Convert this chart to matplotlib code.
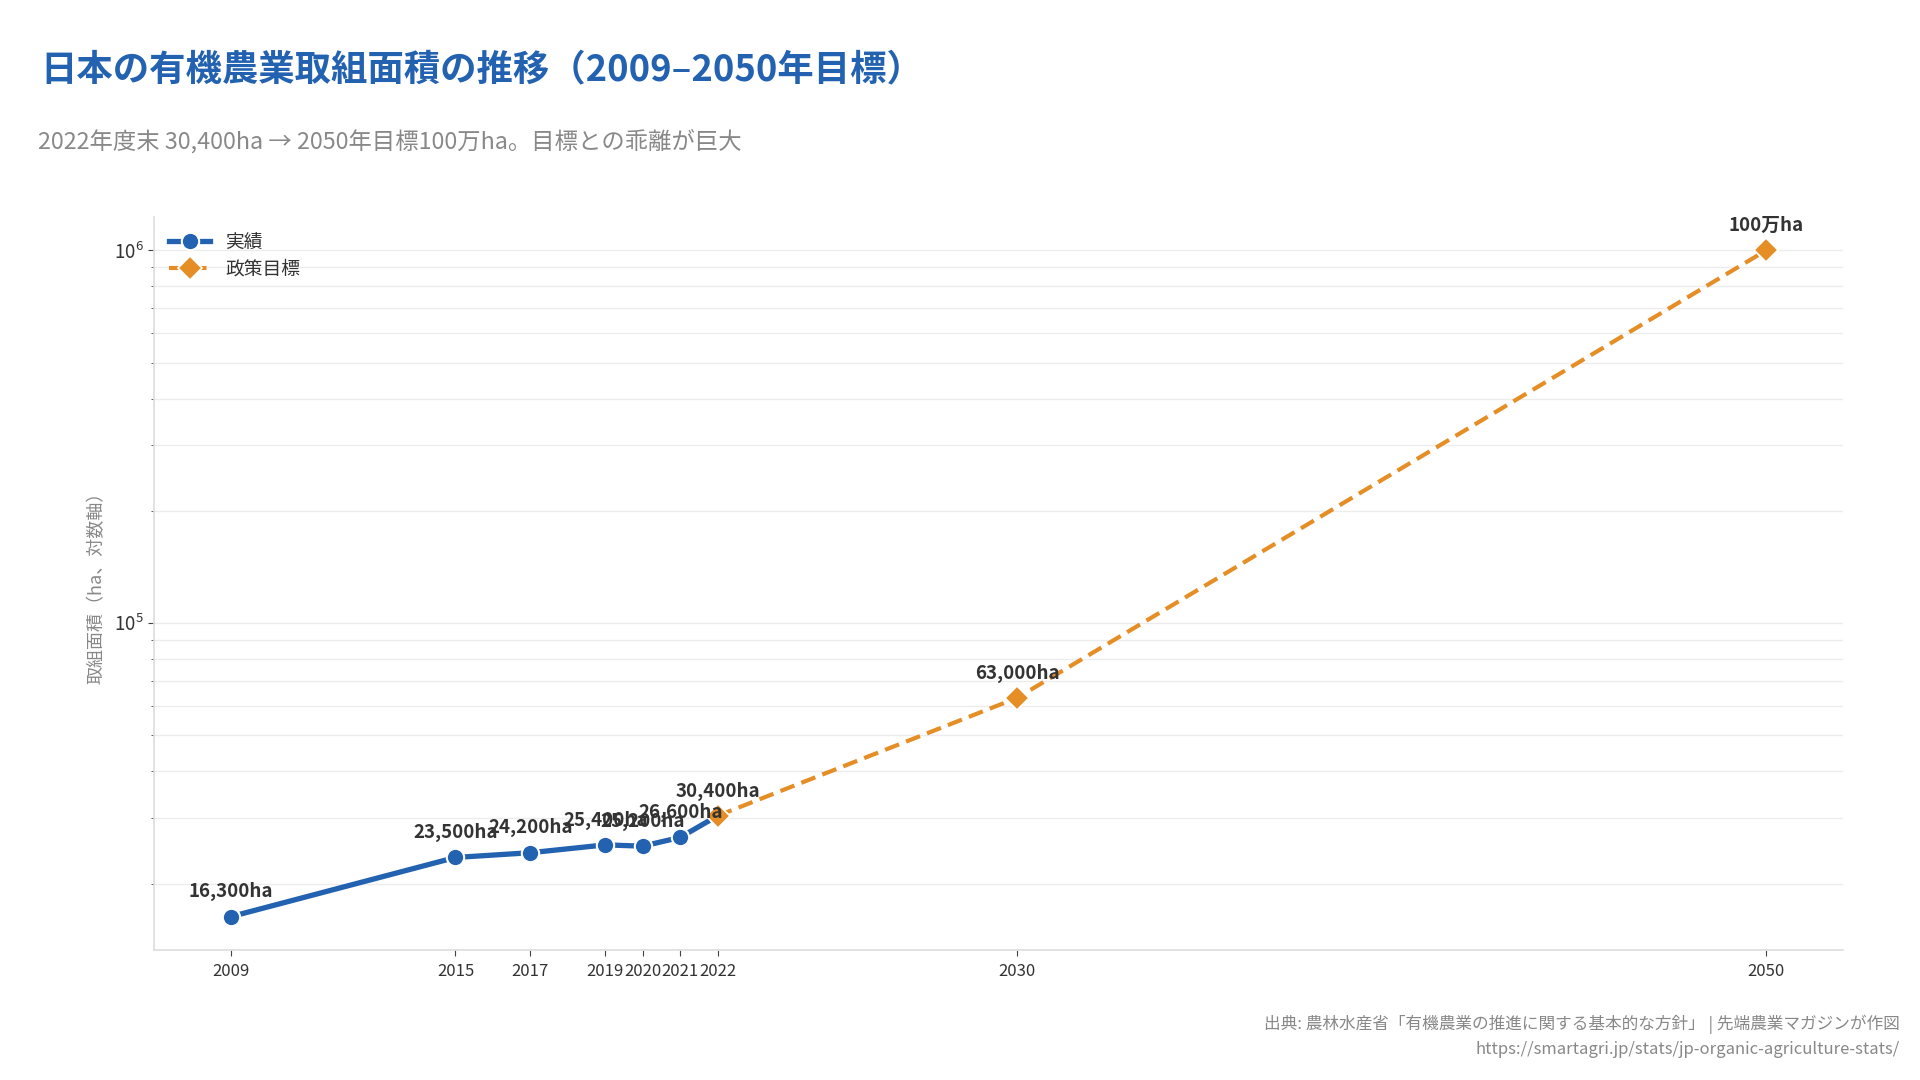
import matplotlib
matplotlib.use("Agg")
import matplotlib.pyplot as plt
from matplotlib.ticker import LogLocator, NullFormatter

plt.rcParams['font.family'] = ['Noto Sans CJK JP', 'DejaVu Sans']

# Data
actual_years = [2009, 2015, 2017, 2019, 2020, 2021, 2022]
actual_values = [16300, 23500, 24200, 25400, 25200, 26600, 30400]
actual_labels = ["16,300ha", "23,500ha", "24,200ha", "25,400ha", "25,200ha", "26,600ha", "30,400ha"]

target_years = [2022, 2030, 2050]
target_values = [30400, 63000, 1000000]
target_labels = ["30,400ha", "63,000ha", "100万ha"]

tick_years = [2009, 2015, 2017, 2019, 2020, 2021, 2022, 2030, 2050]

BLUE = "#2362B0"
ORANGE = "#E58E26"

fig = plt.figure(figsize=(19.2, 10.8), dpi=100)
ax = fig.add_axes([154/1920, 1 - 950/1080, (1843-154)/1920, (950-217)/1080])

ax.plot(actual_years, actual_values, color=BLUE, lw=3.8, marker='o', ms=12.5,
        markeredgecolor='white', markeredgewidth=1.5, label='実績', zorder=3)
ax.plot(target_years, target_values, color=ORANGE, lw=3.0, ls=(0, (3.6, 1.8)), marker='D', ms=12.5,
        markeredgecolor='white', markeredgewidth=1.2, label='政策目標', zorder=4)

ax.set_yscale('log')
ax.set_xticks(tick_years)
ax.set_xticklabels([str(y) for y in tick_years])
ax.yaxis.set_minor_locator(LogLocator(base=10, subs=range(2, 10)))
ax.yaxis.set_minor_formatter(NullFormatter())

ax.grid(True, axis='y', which='both', color='#ececec', lw=1.0)
ax.set_axisbelow(True)
for s in ['top', 'right']:
    ax.spines[s].set_visible(False)
for s in ['left', 'bottom']:
    ax.spines[s].set_color('#dddddd')
    ax.spines[s].set_linewidth(1.2)

ax.tick_params(axis='x', labelsize=12, colors='#333333', length=4, color='#444444', pad=5)
ax.tick_params(axis='y', which='major', labelsize=13.5, colors='#333333', length=4, color='#444444')
ax.tick_params(axis='y', which='minor', length=2.5, color='#444444')

ax.set_ylabel('取組面積（ha、対数軸）', fontsize=13, color='#888888', labelpad=6)

for x, y, t in zip(actual_years[:-1], actual_values[:-1], actual_labels[:-1]):
    ax.annotate(t, (x, y), xytext=(0, 11), textcoords='offset points', ha='center', va='bottom',
                fontsize=13.5, fontweight='bold', color='#333333', zorder=5)
for x, y, t in zip(target_years, target_values, target_labels):
    ax.annotate(t, (x, y), xytext=(0, 11), textcoords='offset points', ha='center', va='bottom',
                fontsize=13.5, fontweight='bold', color='#333333', zorder=5)

leg = ax.legend(loc='upper left', frameon=False, fontsize=13.5, handlelength=2.2,
                bbox_to_anchor=(0.0, 1.0), borderaxespad=0.4, labelspacing=0.3)
for txt in leg.get_texts():
    txt.set_color('#333333')

fig.text(40/1920, 1 - 70/1080, '日本の有機農業取組面積の推移（2009–2050年目標）', fontsize=26.2,
         fontweight='bold', color='#2362B0', ha='left', va='center')
fig.text(38/1920, 1 - 141/1080, '2022年度末 30,400ha → 2050年目標100万ha。目標との乖離が巨大',
         fontsize=16.8, color='#888888', ha='left', va='center')

fig.text(1900/1920, 1 - 1024/1080, '出典: 農林水産省「有機農業の推進に関する基本的な方針」 | 先端農業マガジンが作図',
         fontsize=12, color='#888888', ha='right', va='center')
fig.text(1900/1920, 1 - 1049/1080, 'https://smartagri.jp/stats/jp-organic-agriculture-stats/',
         fontsize=12, color='#888888', ha='right', va='center')

fig.savefig('out.png', dpi=100, facecolor='white')
